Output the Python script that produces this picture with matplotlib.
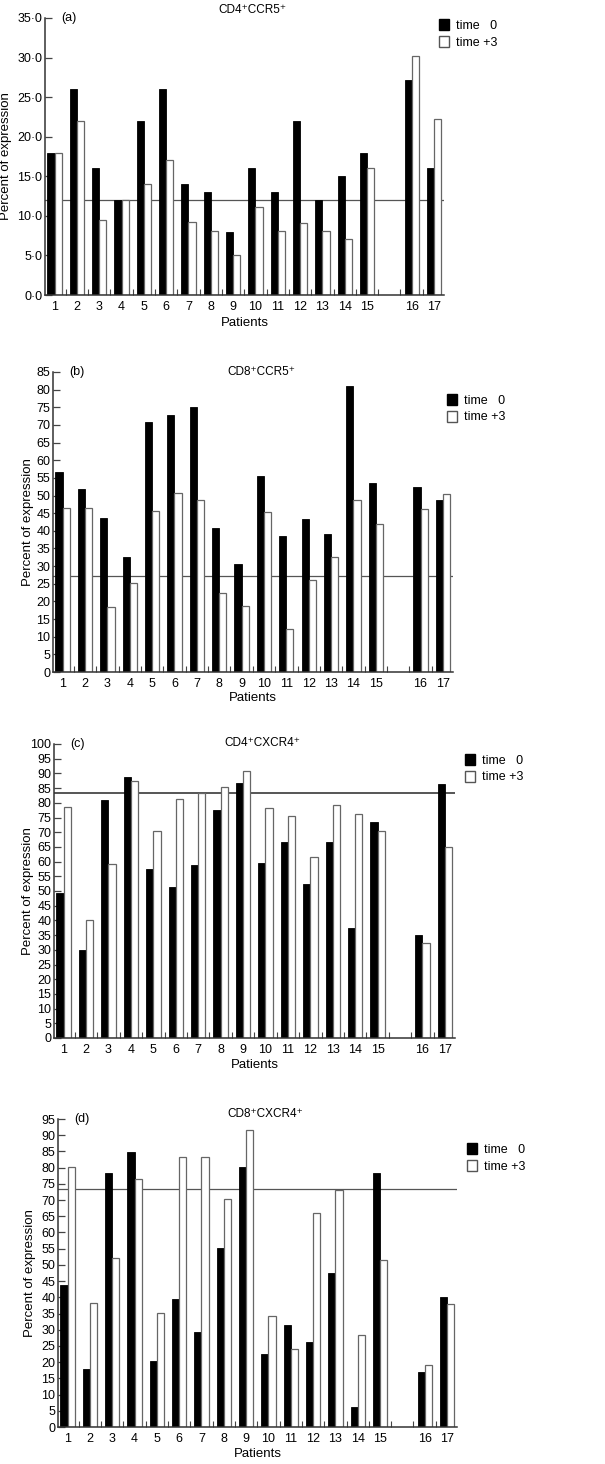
import matplotlib.pyplot as plt
from matplotlib.patches import Patch
from matplotlib.ticker import FixedLocator

plt.rcParams['font.family'] = ['Liberation Sans', 'DejaVu Sans']

patients = [str(i) for i in range(1, 18)]
# patient 16 and 17 sit after an empty slot
positions = list(range(1, 16)) + [17, 18]

cd4_ccr5_t0 = [18, 26, 16, 12, 22, 26, 14, 13, 8, 16, 13, 22, 12, 15, 18, 27.2, 16]
cd4_ccr5_t3 = [18, 22, 9.5, 12, 14, 17.1, 9.2, 8.1, 5.1, 11.1, 8.1, 9.1, 8.1, 7.1, 16.1, 30.2, 22.3]
cd4_ccr5_ref = 12

cd8_ccr5_t0 = [56.6, 51.8, 43.7, 32.7, 70.8, 72.7, 75.1, 40.8, 30.7, 55.4, 38.6, 43.4, 39.0, 80.9, 53.5, 52.5, 48.7]
cd8_ccr5_t3 = [46.4, 46.6, 18.4, 25.1, 45.5, 50.6, 48.7, 22.3, 18.6, 45.4, 12.3, 26.2, 32.7, 48.6, 41.8, 46.3, 50.3]
cd8_ccr5_ref = 27.2

cd4_cxcr4_t0 = [49.2, 30.1, 80.8, 88.8, 57.5, 51.3, 58.8, 77.6, 86.8, 59.5, 66.6, 52.4, 66.7, 37.3, 73.5, 34.9, 86.4]
cd4_cxcr4_t3 = [78.5, 40.3, 59.1, 87.4, 70.3, 81.4, 83.5, 85.5, 90.7, 78.4, 75.5, 61.4, 79.2, 76.2, 70.3, 32.2, 64.9]
cd4_cxcr4_ref = 83.4

cd8_cxcr4_t0 = [43.9, 18.0, 78.2, 84.7, 20.3, 39.6, 29.3, 55.3, 80.3, 22.6, 31.4, 26.3, 47.4, 6.1, 78.2, 17.1, 40.2]
cd8_cxcr4_t3 = [80.3, 38.2, 52.2, 76.6, 35.2, 83.4, 83.4, 70.3, 91.5, 34.3, 24.2, 66.1, 73.1, 28.3, 51.4, 19.0, 38.0]
cd8_cxcr4_ref = 73.5

panels = [
    ('(a)', 'CD4\u207aCCR5\u207a', cd4_ccr5_t0, cd4_ccr5_t3, cd4_ccr5_ref, 35, 5, True),
    ('(b)', 'CD8\u207aCCR5\u207a', cd8_ccr5_t0, cd8_ccr5_t3, cd8_ccr5_ref, 85, 5, False),
    ('(c)', 'CD4\u207aCXCR4\u207a', cd4_cxcr4_t0, cd4_cxcr4_t3, cd4_cxcr4_ref, 100, 5, False),
    ('(d)', 'CD8\u207aCXCR4\u207a', cd8_cxcr4_t0, cd8_cxcr4_t3, cd8_cxcr4_ref, 95, 5, False),
]

# axes boxes in pixels: left, top, right, bottom
boxes = [(45, 18, 444, 295), (53, 372, 453, 672), (54, 744, 455, 1038), (58, 1119, 457, 1427)]
title_y = [10, 372, 743, 1114]
legend_xy = [(439, 19), (447, 394), (465, 754), (467, 1143)]
ylabel_x = [6, 28, 28, 30]
xlabel_y = [323, 698, 1065, 1454]
ref_lw = [0.9, 0.9, 1.4, 0.9]

W, H = 605, 1464
fig = plt.figure(figsize=(W / 100, H / 100), dpi=100)

bw = 0.32
for i, (tag, title, t0, t3, ref, ymax, step, decimals) in enumerate(panels):
    l, t, r, b = boxes[i]
    ax = fig.add_axes([l / W, 1 - b / H, (r - l) / W, (b - t) / H])
    ax.axhline(ref, color='#555555', lw=ref_lw[i], zorder=1)
    ax.bar([p - bw / 2 for p in positions], t0, width=bw, color='black', edgecolor='black', lw=0.6, zorder=2)
    ax.bar([p + bw / 2 for p in positions], t3, width=bw, color='white', edgecolor='#666666', lw=0.9, zorder=2)
    ax.set_xlim(0.57, 18.45)
    ax.set_ylim(0, ymax)
    for s in ['top', 'right']:
        ax.spines[s].set_visible(False)
    for s in ['left', 'bottom']:
        ax.spines[s].set_color('#333333')
        ax.spines[s].set_linewidth(1.1)
    ax.set_xticks(positions)
    ax.set_xticklabels(patients)
    ax.xaxis.set_minor_locator(FixedLocator([p + 0.5 for p in range(1, 18)]))
    ax.tick_params(axis='x', which='major', length=0, pad=4, labelsize=9)
    ax.tick_params(axis='x', which='minor', direction='in', length=4, width=0.8, color='#444444')
    yt = list(range(0, ymax + 1, step))
    ax.set_yticks(yt)
    if decimals:
        ax.set_yticklabels([f'{v:.1f}'.replace('.', '\u00b7') for v in yt])
    ax.tick_params(axis='y', direction='in', length=5, width=0.9, color='#444444', pad=2, labelsize=9)
    ax.text(0.04, 1.0, tag, transform=ax.transAxes, fontsize=9, va='center', ha='left')
    fig.text((l + 0.52 * (r - l)) / W, 1 - title_y[i] / H, title, fontsize=8.5, ha='center', va='center')
    fig.text(ylabel_x[i] / W, 1 - (t + b) / 2 / H, 'Percent of expression', rotation=90,
             fontsize=9.5, ha='center', va='center')
    fig.text((l + 0.5 * (r - l)) / W, 1 - xlabel_y[i] / H, 'Patients', fontsize=9.5, ha='center', va='center')
    handles = [Patch(facecolor='black', edgecolor='black'),
               Patch(facecolor='white', edgecolor='#555555')]
    lx, ly = legend_xy[i]
    fig.legend(handles, ['time   0', 'time +3'], loc='upper left', bbox_to_anchor=(lx / W, 1 - ly / H),
               frameon=False, fontsize=9, handlelength=0.8, handleheight=1.0, handletextpad=0.6,
               labelspacing=0.3, borderpad=0, borderaxespad=0)

fig.savefig('out.png', dpi=100)
